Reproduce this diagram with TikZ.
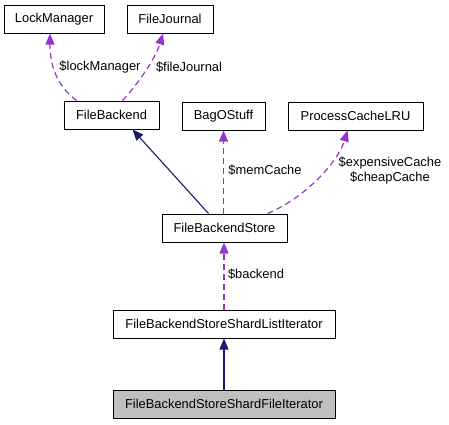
\documentclass[tikz,border=0pt]{standalone}
\usepackage{fontspec}
\setmainfont{Liberation Sans}
\usetikzlibrary{arrows.meta,positioning,calc}

\definecolor{usagecol}{HTML}{9A32CD}
\definecolor{inheritcol}{HTML}{191970}

\begin{document}
\begin{tikzpicture}[x=1pt, y=-1pt,
    font=\fontsize{12.9}{15}\selectfont,
    cls/.style={rectangle, draw=black, line width=1pt, minimum height=28pt, inner sep=0pt},
    usage/.style={-{Triangle[length=11pt,width=9pt]}, draw=usagecol, dash pattern=on 6pt off 4pt, line width=1.2pt},
    inherit/.style={-{Triangle[length=11pt,width=9pt]}, draw=inheritcol, line width=1.1pt},
    lbl/.style={inner sep=0pt, align=center}]
    \useasboundingbox (0,0) rectangle (449,424);
    % Classes
    \node (lm) [cls, minimum width=100pt] at (54,19) {LockManager};
    \node (fj) [cls, minimum width=86pt] at (170,19) {FileJournal};
    \node (fb) [cls, minimum width=95pt] at (111.5,115) {FileBackend};
    \node (bag) [cls, minimum width=83pt] at (223.5,116) {BagOStuff};
    \node (pcl) [cls, minimum width=135pt] at (355.5,116) {ProcessCacheLRU};
    \node (fbs) [cls, minimum width=125pt] at (224.5,228) {FileBackendStore};
    \node (slit) [cls, minimum width=222pt] at (224,324) {FileBackendStoreShardListIterator};
    \node (sfit) [cls, minimum width=222pt, fill=black!25] at (224,404) {FileBackendStoreShardFileIterator};

    % Member labels
    \node (llm) [lbl] at (100,67) {\$lockManager};
    \node (lfj) [lbl] at (189,67) {\$fileJournal};
    \node (lmc) [lbl] at (265,170) {\$memCache};
    \node (lcc) [lbl] at (390,171) {\$expensiveCache\\\$cheapCache};
    \node (lbe) [lbl] at (256,274) {\$backend};

    % Usage relations
    \draw [usage] ([xshift=13pt]fb.north west) .. controls (60,88) and (50,70) .. ([xshift=-4pt]lm.south);
    \draw [usage] ([xshift=59pt]fb.north west) .. controls (136,86) and (155,60) .. ([xshift=-7pt]fj.south);
    \draw [usage] ([xshift=-1pt]fbs.north) -- (bag.south);
    \draw [usage] ([xshift=43pt]fbs.north) .. controls (305,198) and (338,162) .. ([xshift=-8pt]pcl.south);
    \draw [usage] (slit.north) -- ([xshift=-0.5pt]fbs.south);

    % Inheritance
    \draw [inherit] ([xshift=-16pt]fbs.north) -- ([xshift=21pt]fb.south);
    \draw [inherit] (sfit.north) -- (slit.south);
\end{tikzpicture}
\end{document}
